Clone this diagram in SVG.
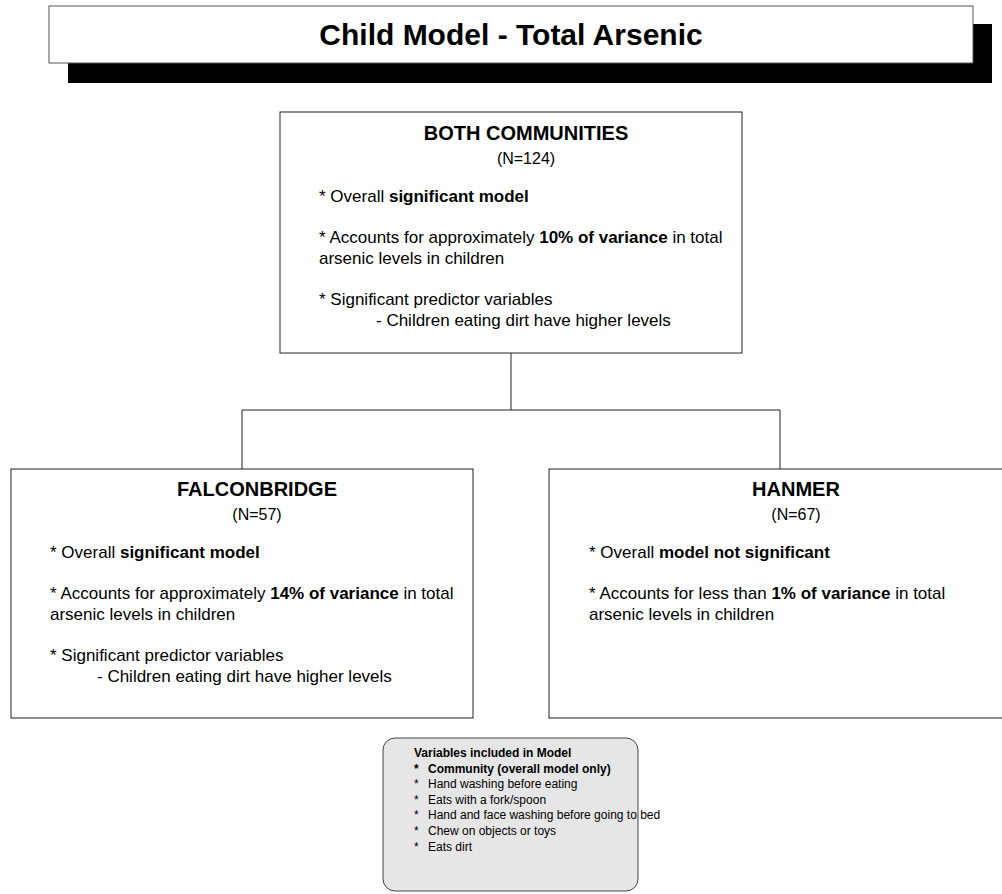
<svg xmlns="http://www.w3.org/2000/svg" width="1002" height="894" viewBox="0 0 1002 894">
  <style>
    text { font-family: "Liberation Sans", Arial, Helvetica, sans-serif; fill: #000; }
    .box { fill: #fff; stroke: #222; stroke-width: 1; }
    .head { font-size: 20px; font-weight: bold; text-anchor: middle; }
    .n { font-size: 16px; text-anchor: middle; }
    .body { font-size: 17px; }
    .b { font-weight: bold; }
    .conn { fill: none; stroke: #222; stroke-width: 1; }
    .legend { fill: #e6e6e6; stroke: #444; stroke-width: 1; }
    .small { font-size: 12px; }
  </style>

  <!-- Title banner with drop shadow -->
  <g id="title">
    <rect x="68" y="24" width="924" height="59" fill="#000"/>
    <rect x="49" y="6" width="924" height="57" fill="#fff" stroke="#555" stroke-width="1"/>
    <text x="511" y="45" font-size="30" font-weight="bold" text-anchor="middle">Child Model - Total Arsenic</text>
  </g>

  <!-- Tree connectors -->
  <g id="connectors">
    <path class="conn" d="M511 353 V410 M242 410 H780 M242 410 V469 M780 410 V469"/>
  </g>

  <!-- Combined sample -->
  <g id="both-communities">
    <rect class="box" x="280" y="112" width="462" height="241"/>
    <text class="head" x="526" y="140">BOTH COMMUNITIES</text>
    <text class="n" x="526" y="164">(N=124)</text>
    <text class="body" x="319" y="202">* Overall <tspan class="b">significant model</tspan></text>
    <text class="body" x="319" y="243">* Accounts for approximately <tspan class="b">10% of variance</tspan> in total</text>
    <text class="body" x="319" y="264">arsenic levels in children</text>
    <text class="body" x="319" y="305">* Significant predictor variables</text>
    <text class="body" x="376" y="326">- Children eating dirt have higher levels</text>
  </g>

  <!-- Falconbridge sample -->
  <g id="falconbridge">
    <rect class="box" x="11" y="469" width="462" height="249"/>
    <text class="head" x="257" y="496">FALCONBRIDGE</text>
    <text class="n" x="257" y="520">(N=57)</text>
    <text class="body" x="50" y="558">* Overall <tspan class="b">significant model</tspan></text>
    <text class="body" x="50" y="599">* Accounts for approximately <tspan class="b">14% of variance</tspan> in total</text>
    <text class="body" x="50" y="620">arsenic levels in children</text>
    <text class="body" x="50" y="661">* Significant predictor variables</text>
    <text class="body" x="97" y="682">- Children eating dirt have higher levels</text>
  </g>

  <!-- Hanmer sample -->
  <g id="hanmer">
    <rect class="box" x="549" y="469" width="462" height="249"/>
    <text class="head" x="796" y="496">HANMER</text>
    <text class="n" x="796" y="520">(N=67)</text>
    <text class="body" x="589" y="558">* Overall <tspan class="b">model not significant</tspan></text>
    <text class="body" x="589" y="599">* Accounts for less than <tspan class="b">1% of variance</tspan> in total</text>
    <text class="body" x="589" y="620">arsenic levels in children</text>
  </g>

  <!-- Model variable list -->
  <g id="variables">
    <rect class="legend" x="383" y="738" width="255" height="153" rx="12" ry="12"/>
    <text class="small b" x="414" y="757">Variables included in Model</text>
    <text class="small b" x="414" y="773">*</text>
    <text class="small b" x="428" y="773">Community (overall model only)</text>
    <text class="small" x="414" y="788">*</text>
    <text class="small" x="428" y="788">Hand washing before eating</text>
    <text class="small" x="414" y="804">*</text>
    <text class="small" x="428" y="804">Eats with a fork/spoon</text>
    <text class="small" x="414" y="819">*</text>
    <text class="small" x="428" y="819">Hand and face washing before going to bed</text>
    <text class="small" x="414" y="835">*</text>
    <text class="small" x="428" y="835">Chew on objects or toys</text>
    <text class="small" x="414" y="851">*</text>
    <text class="small" x="428" y="851">Eats dirt</text>
  </g>
</svg>
